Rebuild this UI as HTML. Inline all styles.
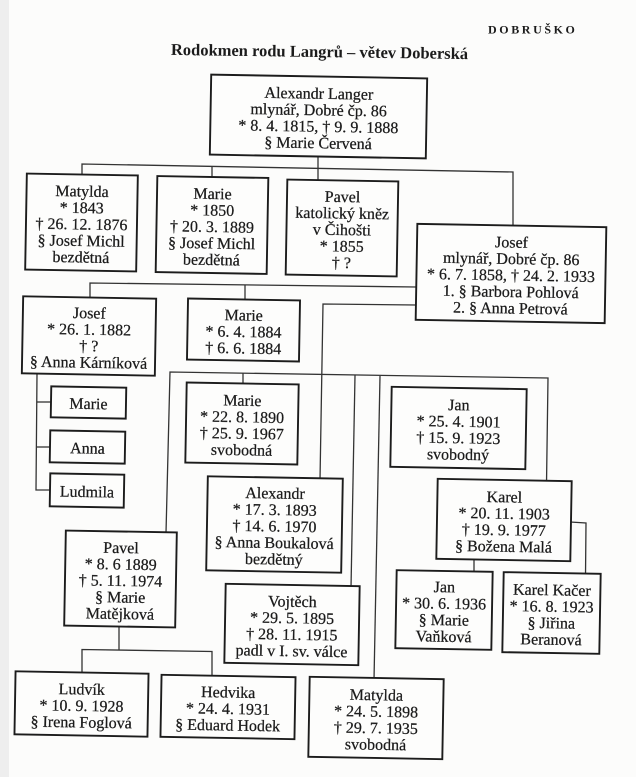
<!DOCTYPE html>
<html><head><meta charset="utf-8"><style>
html,body{margin:0;padding:0;background:#fcfcfb;}
svg{display:block;}
text{font-family:"Liberation Serif",serif;fill:#1b1b1b;}
.b text{font-size:16px;text-anchor:middle;stroke:#1b1b1b;stroke-width:0.25;}
.b rect{fill:#fdfdfc;stroke:#1c1c1c;stroke-width:1.9;}
.l{fill:none;stroke:#333;stroke-width:1.3;}
</style></head><body>
<svg width="636" height="777" viewBox="0 0 636 777" xmlns="http://www.w3.org/2000/svg">
<rect x="0" y="0" width="636" height="777" fill="#fcfcfb"/>
<rect x="0" y="0" width="9" height="777" fill="#eeeeee"/>
<text x="488" y="33.5" font-size="12" font-weight="bold" letter-spacing="2.6" fill="#333">DOBRUŠKO</text>
<text x="319.5" y="57" font-size="16.5" font-weight="bold" text-anchor="middle" transform="rotate(0.8 319.5 52)">Rodokmen rodu Langrů – větev Doberská</text>

<!-- connectors -->
<polyline class="l" points="318,157 318,182"/>
<polyline class="l" points="82,176 82,164 513,172 513,228"/>
<polyline class="l" points="212,166.5 212,180"/>
<polyline class="l" points="90,300 90,283 416,287"/>
<polyline class="l" points="245,285 245,302"/>
<polyline class="l" points="416,305 323,304 320,480"/>
<polyline class="l" points="166,533 170,372 548,378 546.5,484"/>
<polyline class="l" points="243,373.5 243,386"/>
<polyline class="l" points="355,375.5 351,588"/>
<polyline class="l" points="380,376 374,680"/>
<polyline class="l" points="37,374 36,490 51,490"/>
<polyline class="l" points="37,402 52,402"/>
<polyline class="l" points="36.5,447 51,447"/>
<polyline class="l" points="474,558 474,573"/>
<polyline class="l" points="570,522 586,523 585.5,576"/>
<polyline class="l" points="119,624 119,650"/>
<polyline class="l" points="82,674 82,649.5 212,651.5 212,678"/>

<!-- boxes -->
<g class="b" transform="rotate(1 318.5 116.5)"><rect x="210.5" y="76.5" width="216" height="80"/>
<text x="318.5" y="98.75">Alexandr Langer</text><text x="318.5" y="115.25">mlynář, Dobré čp. 86</text><text x="318.5" y="131.75">* 8. 4. 1815, † 9. 9. 1888</text><text x="318.5" y="148.25">§ Marie Červená</text></g>

<g class="b" transform="rotate(1 81.5 222.5)"><rect x="26" y="174.5" width="111" height="96"/>
<text x="81.5" y="196.5">Matylda</text><text x="81.5" y="213">* 1843</text><text x="81.5" y="229.5">† 26. 12. 1876</text><text x="81.5" y="246">§ Josef Michl</text><text x="81.5" y="262.5">bezdětná</text></g>

<g class="b" transform="rotate(1 212 225)"><rect x="156.5" y="177" width="111" height="96"/>
<text x="212" y="199">Marie</text><text x="212" y="215.5">* 1850</text><text x="212" y="232">† 20. 3. 1889</text><text x="212" y="248.5">§ Josef Michl</text><text x="212" y="265">bezdětná</text></g>

<g class="b" transform="rotate(1 342 228)"><rect x="286.5" y="180.5" width="111" height="95"/>
<text x="342" y="202">Pavel</text><text x="342" y="218.5">katolický kněz</text><text x="342" y="235">v Čihošti</text><text x="342" y="251.5">* 1855</text><text x="342" y="268">† ?</text></g>

<g class="b" transform="rotate(1 511 273.5)"><rect x="416.5" y="225.5" width="189" height="96"/>
<text x="511" y="247.5">Josef</text><text x="511" y="264">mlynář, Dobré čp. 86</text><text x="511" y="280.5">* 6. 7. 1858, † 24. 2. 1933</text><text x="511" y="297">1. § Barbora Pohlová</text><text x="511" y="313.5">2. § Anna Petrová</text></g>

<g class="b" transform="rotate(1 89 336)"><rect x="22.5" y="297.5" width="133" height="77"/>
<text x="89" y="318.25">Josef</text><text x="89" y="334.75">* 26. 1. 1882</text><text x="89" y="351.25">† ?</text><text x="89" y="367.75">§ Anna Kárníková</text></g>

<g class="b" transform="rotate(1 243.5 330)"><rect x="187.5" y="299.5" width="112" height="61"/>
<text x="243.5" y="320.5">Marie</text><text x="243.5" y="337">* 6. 4. 1884</text><text x="243.5" y="353.5">† 6. 6. 1884</text></g>

<g class="b" transform="rotate(1 88.5 402.5)"><rect x="51" y="387" width="75" height="31"/>
<text x="88.5" y="409">Marie</text></g>
<g class="b" transform="rotate(1 87.5 447)"><rect x="50" y="431" width="75" height="32"/>
<text x="87.5" y="453.5">Anna</text></g>
<g class="b" transform="rotate(1 87 490.5)"><rect x="50" y="474" width="74" height="33"/>
<text x="87" y="497">Ludmila</text></g>

<g class="b" transform="rotate(1 242 423.5)"><rect x="186" y="383.5" width="112" height="80"/>
<text x="242" y="405.75">Marie</text><text x="242" y="422.25">* 22. 8. 1890</text><text x="242" y="438.75">† 25. 9. 1967</text><text x="242" y="455.25">svobodná</text></g>

<g class="b" transform="rotate(1 274.5 524.5)"><rect x="207" y="477.5" width="135" height="94"/>
<text x="274.5" y="498.5">Alexandr</text><text x="274.5" y="515">* 17. 3. 1893</text><text x="274.5" y="531.5">† 14. 6. 1970</text><text x="274.5" y="548">§ Anna Boukalová</text><text x="274.5" y="564.5">bezdětný</text></g>

<g class="b" transform="rotate(1 458.5 428)"><rect x="391" y="388" width="135" height="80"/>
<text x="458.5" y="410.25">Jan</text><text x="458.5" y="426.75">* 25. 4. 1901</text><text x="458.5" y="443.25">† 15. 9. 1923</text><text x="458.5" y="459.75">svobodný</text></g>

<g class="b" transform="rotate(1 504 520)"><rect x="437" y="480" width="134" height="80"/>
<text x="504" y="502.25">Karel</text><text x="504" y="518.75">* 20. 11. 1903</text><text x="504" y="535.25">† 19. 9. 1977</text><text x="504" y="551.75">§ Božena Malá</text></g>

<g class="b" transform="rotate(1 120.5 579)"><rect x="65" y="531.5" width="111" height="95"/>
<text x="120.5" y="553">Pavel</text><text x="120.5" y="569.5">* 8. 6 1889</text><text x="120.5" y="586">† 5. 11. 1974</text><text x="120.5" y="602.5">§ Marie</text><text x="120.5" y="619">Matějková</text></g>

<g class="b" transform="rotate(1 292 624.5)"><rect x="225" y="585" width="134" height="79"/>
<text x="292" y="606.75">Vojtěch</text><text x="292" y="623.25">* 29. 5. 1895</text><text x="292" y="639.75">† 28. 11. 1915</text><text x="292" y="656.25">padl v I. sv. válce</text></g>

<g class="b" transform="rotate(1 444 610)"><rect x="396" y="571" width="96" height="78"/>
<text x="444" y="592.25">Jan</text><text x="444" y="608.75">* 30. 6. 1936</text><text x="444" y="625.25">§ Marie</text><text x="444" y="641.75">Vaňková</text></g>

<g class="b" transform="rotate(1 551.5 613)"><rect x="503" y="573" width="97" height="80"/>
<text x="551.5" y="595.25">Karel Kačer</text><text x="551.5" y="611.75">* 16. 8. 1923</text><text x="551.5" y="628.25">§ Jiřina</text><text x="551.5" y="644.75">Beranová</text></g>

<g class="b" transform="rotate(1 81.5 704)"><rect x="15" y="672.5" width="133" height="63"/>
<text x="81.5" y="694.5">Ludvík</text><text x="81.5" y="711">* 10. 9. 1928</text><text x="81.5" y="727.5">§ Irena Foglová</text></g>

<g class="b" transform="rotate(1 228 707)"><rect x="161" y="676" width="134" height="62"/>
<text x="228" y="697.5">Hedvika</text><text x="228" y="714">* 24. 4. 1931</text><text x="228" y="730.5">§ Eduard Hodek</text></g>

<g class="b" transform="rotate(1 376 718)"><rect x="309" y="678" width="134" height="80"/>
<text x="376" y="700.25">Matylda</text><text x="376" y="716.75">* 24. 5. 1898</text><text x="376" y="733.25">† 29. 7. 1935</text><text x="376" y="749.75">svobodná</text></g>
</svg>
</body></html>
